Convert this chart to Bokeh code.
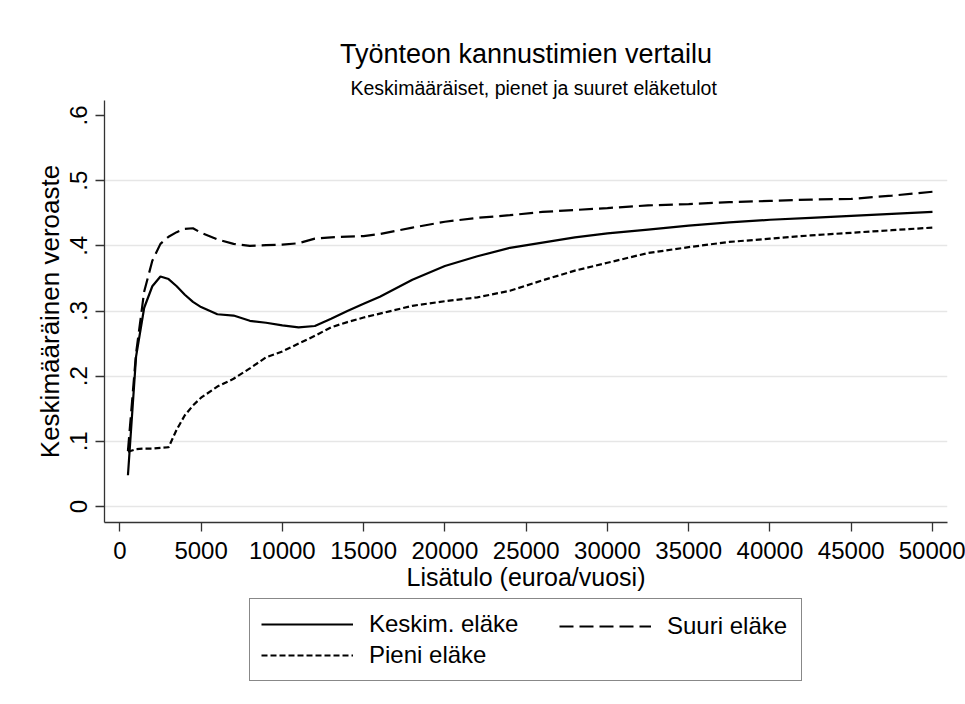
from bokeh.plotting import figure
from bokeh.models import FixedTicker, Legend, LegendItem, Title
from bokeh.layouts import column
from bokeh.embed import file_html
from bokeh.resources import INLINE

# ---- data ----
income = [500, 1000, 1500, 2000, 2500, 3000, 3500, 4000, 4500, 5000,
          6000, 7000, 8000, 9000, 10000, 11000, 12000, 13000, 14000, 15000,
          16000, 18000, 20000, 22000, 24000, 26000, 28000, 30000, 32500, 35000,
          37500, 40000, 42500, 45000, 47500, 50000]
keskim = [0.048, 0.230, 0.305, 0.338, 0.353, 0.349, 0.338, 0.325, 0.314, 0.306,
          0.295, 0.293, 0.285, 0.282, 0.278, 0.275, 0.277, 0.288, 0.300, 0.311,
          0.322, 0.348, 0.369, 0.384, 0.397, 0.405, 0.413, 0.419, 0.425, 0.431,
          0.436, 0.440, 0.443, 0.446, 0.449, 0.452]
suuri = [0.085, 0.235, 0.330, 0.377, 0.403, 0.414, 0.421, 0.426, 0.427, 0.420,
         0.410, 0.403, 0.400, 0.401, 0.402, 0.404, 0.411, 0.413, 0.414, 0.415,
         0.418, 0.428, 0.437, 0.443, 0.447, 0.452, 0.455, 0.458, 0.462, 0.464,
         0.467, 0.469, 0.471, 0.472, 0.477, 0.483]
pieni = [0.084, 0.088, 0.089, 0.089, 0.090, 0.091, 0.118, 0.140, 0.155, 0.167,
         0.184, 0.196, 0.212, 0.229, 0.238, 0.250, 0.262, 0.275, 0.283, 0.290,
         0.296, 0.308, 0.315, 0.321, 0.331, 0.347, 0.362, 0.374, 0.389, 0.398,
         0.406, 0.411, 0.416, 0.420, 0.424, 0.428]

x_ticks = [0, 5000, 10000, 15000, 20000, 25000, 30000, 35000, 40000, 45000, 50000]
y_ticks = [0, 0.1, 0.2, 0.3, 0.4, 0.5, 0.6]
y_tick_labels = ["0", ".1", ".2", ".3", ".4", ".5", ".6"]
y_grid = [0, 0.1, 0.2, 0.3, 0.4, 0.5]

title_text = "Työnteon kannustimien vertailu"
subtitle_text = "Keskimääräiset, pienet ja suuret eläketulot"
x_label = "Lisätulo (euroa/vuosi)"
y_label = "Keskimääräinen veroaste"
series_names = ["Keskim. eläke", "Suuri eläke", "Pieni eläke"]

FONT = "Liberation Sans"
AX = "#333333"
W = 965
H1 = 598
H2 = 106
DASH_SUURI = "14 6"
DASH_PIENI = "6 3"

p = figure(width=W, height=H1, x_range=(-942, 50923), y_range=(-0.0245, 0.623),
           output_backend="svg", toolbar_location=None, title=None,
           min_border_left=104, min_border_right=18, min_border_top=100,
           min_border_bottom=76)
p.outline_line_color = None
p.background_fill_color = "white"
p.border_fill_color = "white"

# titles (later-added are further from the frame)
p.add_layout(Title(text=subtitle_text, align="left", text_font=FONT,
                   text_font_size="19.5px", text_font_style="normal",
                   text_color="black", offset=246, standoff=4), "above")
p.add_layout(Title(text=title_text, align="center", text_font=FONT,
                   text_font_size="27px", text_font_style="normal",
                   text_color="black", standoff=8), "above")

xa = p.xaxis[0]
xa.ticker = FixedTicker(ticks=x_ticks)
ya = p.yaxis[0]
ya.ticker = FixedTicker(ticks=y_ticks)
ya.major_label_overrides = {v: s for v, s in zip(y_ticks, y_tick_labels)}
ya.major_label_orientation = "vertical"
for ax in (xa, ya):
    ax.axis_line_color = AX
    ax.axis_line_width = 1.3
    ax.major_tick_line_color = AX
    ax.major_tick_line_width = 1.3
    ax.major_tick_out = 9
    ax.major_tick_in = 0
    ax.minor_tick_line_color = None
    ax.major_label_text_font = FONT
    ax.major_label_text_font_size = "24px"
    ax.major_label_text_color = "black"
    ax.axis_label_text_font = FONT
    ax.axis_label_text_font_style = "normal"
    ax.axis_label_text_color = "black"
xa.axis_label = x_label
ya.axis_label = y_label
xa.axis_label_text_font_size = "25px"
ya.axis_label_text_font_size = "26px"
xa.major_label_standoff = 10
xa.axis_label_standoff = 1
ya.major_label_standoff = 8
ya.axis_label_standoff = 3

p.xgrid.visible = False
p.ygrid.ticker = FixedTicker(ticks=y_grid)
p.ygrid.grid_line_color = "#e6e6e6"
p.ygrid.grid_line_width = 1.7

p.line(income, keskim, line_color="black", line_width=2.2)
p.line(income, suuri, line_color="black", line_width=2.2, line_dash=DASH_SUURI)
p.line(income, pieni, line_color="black", line_width=2.2, line_dash=DASH_PIENI)

# ---- legend strip below the plot (series drawn off-range; only legend shows) ----
q = figure(width=W, height=H2, x_range=(0, 1), y_range=(0, 1),
           output_backend="svg", toolbar_location=None, title=None,
           x_axis_location=None, y_axis_location=None,
           min_border_left=0, min_border_right=0, min_border_top=0,
           min_border_bottom=0)
q.outline_line_color = None
q.grid.visible = False
q.background_fill_color = "white"
q.border_fill_color = "white"

k1 = q.line(income, keskim, line_color="black", line_width=2.2)
k2 = q.line(income, suuri, line_color="black", line_width=2.2, line_dash=DASH_SUURI)
k3 = q.line(income, pieni, line_color="black", line_width=2.2, line_dash=DASH_PIENI)

common = dict(label_text_font=FONT, label_text_font_size="24px",
              label_text_color="black", glyph_width=92, glyph_height=26,
              label_height=26, label_standoff=16, spacing=3, margin=0)
legA = Legend(items=[LegendItem(label=series_names[0], renderers=[k1]),
                     LegendItem(label=series_names[2], renderers=[k3])],
              location=(145, 23), orientation="vertical", padding=11,
              label_width=421, border_line_color="#111111", border_line_width=1,
              background_fill_color="white", background_fill_alpha=1, **common)
legB = Legend(items=[LegendItem(label=series_names[1], renderers=[k2])],
              location=(455, 64.5), orientation="vertical", padding=0,
              border_line_color=None, background_fill_alpha=0, **common)
q.add_layout(legA, "center")
q.add_layout(legB, "center")

layout = column(p, q, spacing=0)
open("out.html", "w").write(file_html(layout, INLINE))
